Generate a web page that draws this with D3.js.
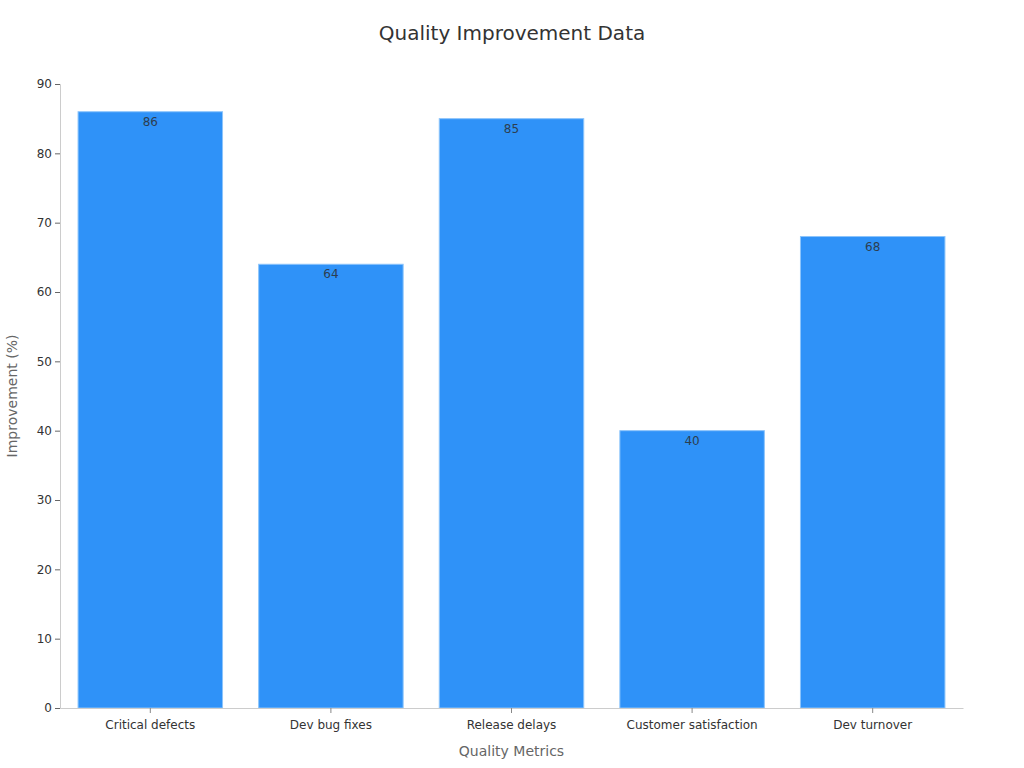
<!DOCTYPE html>
<html>
<head>
<meta charset="utf-8">
<script src="https://cdn.jsdelivr.net/npm/d3@7"></script>
<style>
  body { margin: 0; background: #fff; }
  text { font-family: "DejaVu Sans", sans-serif; }
</style>
</head>
<body>
<div class="bar-chart"></div>
<script>
const categories = ["Critical defects", "Dev bug fixes", "Release delays", "Customer satisfaction", "Dev turnover"]
const improvement = [86, 64, 85, 40, 68]
const yTicks = [0, 10, 20, 30, 40, 50, 60, 70, 80, 90]

const dims = { width: 1024, height: 768 }
const margin = { top: 84, right: 61, bottom: 60, left: 60 }

const svg = d3.select('.bar-chart')
  .append('svg')
  .attr('width', dims.width)
  .attr('height', dims.height)

const x = d3.scaleBand()
  .domain(categories)
  .range([margin.left, dims.width - margin.right])
  .paddingInner(0.2)
  .paddingOuter(0.1)

const y = d3.scaleLinear()
  .domain([0, 90])
  .range([dims.height - margin.bottom, margin.top])

// title
svg.append('text')
  .attr('x', dims.width / 2)
  .attr('y', 40)
  .attr('text-anchor', 'middle')
  .attr('font-size', 20)
  .attr('fill', '#333')
  .text('Quality Improvement Data')

// bars
svg.append('g')
  .selectAll('rect')
  .data(improvement)
  .enter()
  .append('rect')
  .attr('x', (d, i) => x(categories[i]))
  .attr('y', d => y(d))
  .attr('width', x.bandwidth())
  .attr('height', d => y(0) - y(d))
  .attr('fill', '#2f92f8')
  .attr('stroke', '#8cc4fb')
  .attr('stroke-width', 1)

// value labels
svg.append('g')
  .selectAll('text')
  .data(improvement)
  .enter()
  .append('text')
  .attr('x', (d, i) => x(categories[i]) + x.bandwidth() / 2)
  .attr('y', d => y(d) + 14)
  .attr('text-anchor', 'middle')
  .attr('font-size', 12)
  .attr('fill', '#2d3e50')
  .text(d => d)

// y axis
const yAxis = svg.append('g')
  .attr('transform', `translate(${margin.left},0)`)
  .call(d3.axisLeft(y).tickValues(yTicks).tickSize(5).tickPadding(3))
yAxis.select('.domain').attr('stroke', '#ccc')
yAxis.selectAll('.tick line').attr('stroke', '#666')
yAxis.selectAll('.tick text').attr('font-size', 12).attr('fill', '#333')
  .attr('font-family', '"DejaVu Sans", sans-serif')

// x axis
const xAxis = svg.append('g')
  .attr('transform', `translate(0,${y(0)})`)
  .call(d3.axisBottom(x).tickSize(5).tickPadding(7).tickSizeOuter(0))
xAxis.select('.domain').attr('stroke', '#ccc')
xAxis.selectAll('.tick line').attr('stroke', '#888')
xAxis.selectAll('.tick text').attr('font-size', 12).attr('fill', '#333')
  .attr('font-family', '"DejaVu Sans", sans-serif')

// axis titles
svg.append('text')
  .attr('x', (margin.left + dims.width - margin.right) / 2)
  .attr('y', 756)
  .attr('text-anchor', 'middle')
  .attr('font-size', 14)
  .attr('fill', '#666')
  .text('Quality Metrics')

svg.append('text')
  .attr('transform', `translate(17,${(margin.top + dims.height - margin.bottom) / 2}) rotate(-90)`)
  .attr('text-anchor', 'middle')
  .attr('font-size', 14)
  .attr('fill', '#666')
  .text('Improvement (%)')
</script>
</body>
</html>
